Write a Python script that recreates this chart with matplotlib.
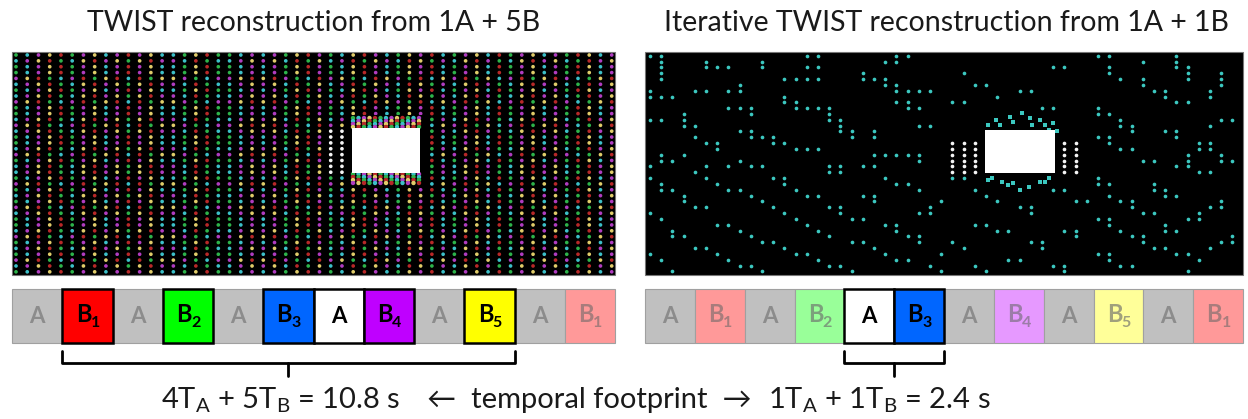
#!/usr/bin/env python3
"""
TWIST vs iterative TWIST reconstruction figure:
two dot-pattern reconstructions, the frame sequences below them and the
temporal footprint line at the bottom.
"""
import matplotlib.pyplot as plt
from matplotlib.patches import Rectangle

plt.rcParams['font.family'] = ['Lato', 'DejaVu Sans']
plt.rcParams['mathtext.fontset'] = 'custom'
plt.rcParams['mathtext.rm'] = 'Lato'

# ── Texts ─────────────────────────────────────────────────────────────────────
TITLES = ['TWIST reconstruction from 1A + 5B',
          'Iterative TWIST reconstruction from 1A + 1B']
FOOTER = [r'4T$_\mathrm{A}$ + 5T$_\mathrm{B}$ = 10.8 s',
          '←  temporal footprint  →',
          r'1T$_\mathrm{A}$ + 1T$_\mathrm{B}$ = 2.4 s']

# ── Frame sequences ───────────────────────────────────────────────────────────
FRAMES       = ['A', 'B1', 'A', 'B2', 'A', 'B3', 'A', 'B4', 'A', 'B5', 'A', 'B1']
LEFT_ACTIVE  = [0, 1, 0, 1, 0, 1, 1, 1, 0, 1, 0, 0]
RIGHT_ACTIVE = [0, 0, 0, 0, 1, 1, 0, 0, 0, 0, 0, 0]
FULL_COLOR  = {'A': '#ffffff', 'B1': '#ff0000', 'B2': '#00ff00', 'B3': '#0066ff',
               'B4': '#bf00ff', 'B5': '#ffff00'}
FADED_COLOR = {'A': '#c0c0c0', 'B1': '#ff9999', 'B2': '#99ff99', 'B3': '#99c2ff',
               'B4': '#e699ff', 'B5': '#ffff99'}
FADED_TEXT  = {'A': '#8c8c8c', 'B1': '#a87c7c', 'B2': '#7ca07c', 'B3': '#7c8ca8',
               'B4': '#9c7ca8', 'B5': '#a0a07c'}

# ── Left reconstruction: colour code per column and row shift per row ─────────
LEFT_PALETTE  = ['#2db34a', '#3cc0c8', '#b03cc0', '#e0cc6a', '#b82828']
LEFT_COL_CODE = [0, 1, 2, 3, 4, 0, 2, 3, 1, 2, 4, 2, 3, 1, 1, 0, 3, 4, 0, 0, 1, 2, 1, 2,
                 0, 3, 4, 2, 0, 1, 3, 4, 2, 1, 0, 3, 2, 4, 1, 0, 2, 3, 1, 4, 0, 2, 3, 1,
                 2, 0, 4, 3, 1, 2]
LEFT_ROW_SHIFT = [0, 1, 0, 0, 2, 1, 0, 1, 2, 0, 0, 1, 2, 1, 0, 0, 1, 2, 0, 1, 1, 0, 2, 0,
                  1, 0, 2, 1, 0, 0, 1, 2, 0, 1, 0, 2, 1, 0]
LEFT_WHITE_COLS = [28, 29]          # white dots left of the object
LEFT_WHITE_ROWS = list(range(13, 21))

# ── Right reconstruction: cyan dots, column indices per row ───────────────────
RIGHT_DOTS = [
    [0, 1, 14, 15, 22, 23, 40, 41, 47],
    [1, 5, 10, 21, 22, 44, 47],
    [1, 5, 6, 7, 10, 14, 15, 36, 37, 41, 47, 48],
    [1, 19, 28, 41, 48, 51],
    [1, 12, 13, 14, 15, 19, 20, 21, 42, 44, 48, 51],
    [8, 21, 22, 29, 30, 44, 51],
    [0, 4, 5, 7, 8, 22, 23, 24, 25, 33, 34, 45, 46, 50],
    [0, 1, 2, 12, 31, 46, 50],
    [12, 13, 22, 23, 27, 28, 47, 48],
    [7, 8, 9, 13, 14, 15, 16, 23, 24, 35, 36, 40],
    [3, 9, 16, 40, 41],
    [0, 1, 3, 16, 17, 42, 51, 52],
    [3, 4, 17, 24, 25, 42, 43, 50],
    [8, 9, 17, 18, 20, 43, 46, 47],
    [4, 9, 10, 11, 18, 20, 40, 41, 47],
    [5, 6, 11, 12, 41, 49, 50],
    [6, 13, 14, 15, 42, 43, 49, 50],
    [1, 3, 20, 21, 22, 23, 24, 48, 51],
    [1, 2, 8, 24, 44, 45, 48, 51, 52],
    [0, 5, 7, 9, 10, 16, 17, 19, 20, 47, 48],
    [4, 16, 17, 49, 50],
    [0, 5, 11, 12, 21, 27, 28, 40],
    [1, 6, 12, 22, 23, 40, 41, 45],
    [1, 2, 7, 8, 13, 24, 29, 36, 37, 45, 46],
    [3, 9, 14, 15, 19, 20, 30, 41, 46, 47],
    [3, 10, 20, 26, 31, 38, 39, 42, 43, 51],
    [4, 5, 11, 16, 17, 25, 33, 34, 43, 50, 51],
    [0, 12, 17, 24, 25, 34, 44, 45, 49],
    [1, 13, 18, 19, 40, 41, 48, 49],
    [6, 7, 14, 21, 22, 29, 30, 41, 46],
    [2, 8, 15, 22, 31, 32, 37, 38, 42, 46, 47],
    [2, 3, 9, 16, 23, 24, 38, 43, 44, 52],
    [10, 11, 18, 19, 24, 27, 34, 35, 44, 51, 52],
    [4, 5, 12, 20, 28, 35, 45, 46, 50],
    [0, 6, 13, 14, 21, 26, 40, 41, 47, 48],
    [1, 7, 15, 22, 23, 32, 33, 41, 49],
    [8, 9, 16, 17, 25, 29, 36, 37, 42, 43],
    [2, 10, 18, 26, 30, 37, 48],
]
RIGHT_WHITE_COLS = [27, 28, 29, 37, 38]
RIGHT_WHITE_ROWS = list(range(15, 21))
# cyan streaks around the object (grid units, col/row)
RIGHT_HALO = [(30.2, 11.9), (30.9, 11.0), (31.25, 11.9), (32.1, 10.5), (32.4, 11.3),
              (33.2, 9.9), (33.9, 10.7), (34.1, 11.9), (34.8, 11.0), (35.3, 11.9),
              (35.6, 12.7), (36.0, 11.6), (36.3, 13.0),
              (30.2, 21.3), (30.5, 21.0), (31.4, 21.6), (32.0, 22.2), (32.4, 21.9),
              (33.0, 23.0), (33.8, 22.5), (34.8, 21.6), (35.3, 21.6), (35.6, 21.0)]
CYAN = '#3cc8c0'

# ── Layout (pixels) ───────────────────────────────────────────────────────────
W, H = 1248, 419
PANEL_Y0, PANEL_Y1 = 52, 275
LEFT_X0, LEFT_X1 = 12, 615
RIGHT_X0, RIGHT_X1 = 645, 1243
LEFT_GRID  = (16.0, 11.24, 55.0, 5.86)     # x0, dx, y0, dy
RIGHT_GRID = (650.0, 11.2, 55.7, 5.83)
SEQ_Y0, SEQ_Y1 = 289, 343
DOT = 7

fig = plt.figure(figsize=(W / 100, H / 100), dpi=100)
ax = fig.add_axes([0, 0, 1, 1])
ax.set_xlim(0, W)
ax.set_ylim(H, 0)
ax.axis('off')


def grid_xy(grid, c, r):
    x0, dx, y0, dy = grid
    return x0 + c * dx, y0 + r * dy


# titles
ax.text((LEFT_X0 + LEFT_X1) / 2, 23, TITLES[0], ha='center', va='center', fontsize=20.5,
        color='#1a1a1a')
ax.text((RIGHT_X0 + RIGHT_X1) / 2 + 2, 23, TITLES[1], ha='center', va='center',
        fontsize=20.5, color='#1a1a1a')

# ── Left panel ────────────────────────────────────────────────────────────────
ax.add_patch(Rectangle((LEFT_X0, PANEL_Y0), LEFT_X1 - LEFT_X0, PANEL_Y1 - PANEL_Y0,
                       facecolor='black', edgecolor='#777777', lw=0.8))
xs, ys, cs = [], [], []
for c, code in enumerate(LEFT_COL_CODE):
    for r, shift in enumerate(LEFT_ROW_SHIFT):
        x, y = grid_xy(LEFT_GRID, c, r)
        xs.append(x)
        ys.append(y)
        if c in LEFT_WHITE_COLS and r in LEFT_WHITE_ROWS:
            cs.append('#f4f4f4')
        else:
            cs.append(LEFT_PALETTE[(code + shift) % len(LEFT_PALETTE)])
ax.scatter(xs, ys, s=DOT, c=cs, linewidths=0)

# object with coloured aliasing bands
ax.add_patch(Rectangle((345, 115), 80, 72, facecolor='black', lw=0))
bx, by, bc = [], [], []
for j in range(4):
    for i in range(13):
        bx += [353 + i * 5.5, 353 + i * 5.5]
        by += [118 + j * 3, 174 + j * 3]
        bc += [LEFT_PALETTE[(i + j) % 5], LEFT_PALETTE[(i - j) % 5]]
ax.scatter(bx, by, s=10, c=bc, linewidths=0)
ax.add_patch(Rectangle((352, 128), 68, 45, facecolor='white', lw=0))

# ── Right panel ───────────────────────────────────────────────────────────────
ax.add_patch(Rectangle((RIGHT_X0, PANEL_Y0), RIGHT_X1 - RIGHT_X0, PANEL_Y1 - PANEL_Y0,
                       facecolor='black', edgecolor='#777777', lw=0.8))
xs, ys = [], []
for r, cols in enumerate(RIGHT_DOTS):
    for c in cols:
        x, y = grid_xy(RIGHT_GRID, c, r)
        xs.append(x)
        ys.append(y)
ax.scatter(xs, ys, s=DOT, c=CYAN, linewidths=0)
wx, wy = [], []
for c in RIGHT_WHITE_COLS:
    for r in RIGHT_WHITE_ROWS:
        x, y = grid_xy(RIGHT_GRID, c, r)
        wx.append(x)
        wy.append(y)
ax.scatter(wx, wy, s=DOT, c='#f4f4f4', linewidths=0)
hx = [grid_xy(RIGHT_GRID, c, r)[0] for c, r in RIGHT_HALO]
hy = [grid_xy(RIGHT_GRID, c, r)[1] for c, r in RIGHT_HALO]
ax.scatter(hx, hy, s=12, c=CYAN, marker='s', linewidths=0)
ax.add_patch(Rectangle((985, 130), 70, 43, facecolor='white', lw=0))


# ── Frame sequences ───────────────────────────────────────────────────────────
def draw_sequence(x0, x1, active):
    bw = (x1 - x0) / len(FRAMES)
    for k, (name, on) in enumerate(zip(FRAMES, active)):
        left = x0 + k * bw
        if on:
            face, edge, lw, tcol = FULL_COLOR[name], 'black', 1.8, 'black'
        else:
            face, edge, lw, tcol = FADED_COLOR[name], '#a0a0a0', 0.8, FADED_TEXT[name]
        ax.add_patch(Rectangle((left, SEQ_Y0), bw, SEQ_Y1 - SEQ_Y0, facecolor=face,
                               edgecolor=edge, lw=lw, zorder=3 if on else 2))
        cx, cy = left + bw / 2, (SEQ_Y0 + SEQ_Y1) / 2
        if name == 'A':
            ax.text(cx, cy, 'A', ha='center', va='center', fontsize=16,
                    color=tcol, weight='bold', zorder=4)
        else:
            ax.text(cx - 4, cy - 2, 'B', ha='center', va='center', fontsize=17,
                    color=tcol, weight='bold', zorder=4)
            ax.text(cx + 8, cy + 7, name[1], ha='center', va='center', fontsize=11.5,
                    color=tcol, weight='bold', zorder=4)
    return bw


def draw_bracket(xa, xb):
    kw = dict(color='black', lw=2.0, solid_capstyle='round', solid_joinstyle='round')
    ax.plot([xa, xa, xb, xb], [351, 363, 363, 351], **kw)
    xm = (xa + xb) / 2
    ax.plot([xm, xm], [363, 376], **kw)


bw_l = draw_sequence(LEFT_X0, LEFT_X1, LEFT_ACTIVE)
bw_r = draw_sequence(RIGHT_X0, RIGHT_X1, RIGHT_ACTIVE)
draw_bracket(LEFT_X0 + 1 * bw_l, LEFT_X0 + 10 * bw_l)
draw_bracket(RIGHT_X0 + 4 * bw_r, RIGHT_X0 + 6 * bw_r)

ax.text(400, 400, FOOTER[0], ha='right', va='center', fontsize=21, color='#1a1a1a')
ax.text(589, 400, FOOTER[1], ha='center', va='center', fontsize=21, color='#1a1a1a')
ax.text(768, 400, FOOTER[2], ha='left', va='center', fontsize=21, color='#1a1a1a')

fig.savefig('out.png', dpi=100)
